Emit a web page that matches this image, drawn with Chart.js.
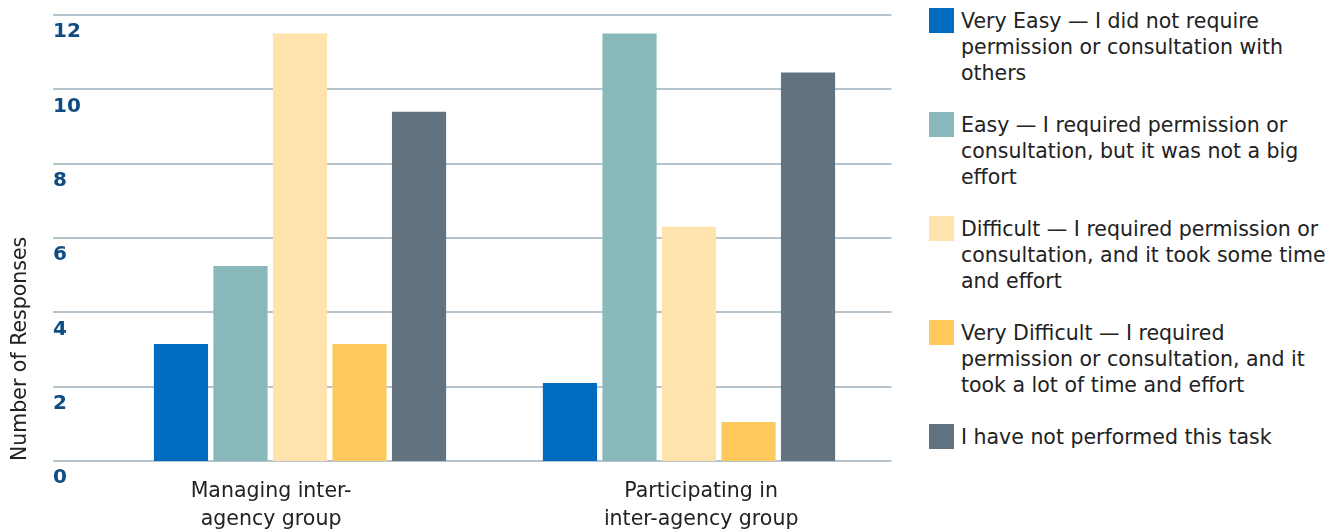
<!DOCTYPE html>
<html>
<head>
<meta charset="utf-8">
<script src="https://cdn.jsdelivr.net/npm/chart.js@4/dist/chart.umd.min.js"></script>
<style>
  body { margin: 0; background: #fff; }
  #wrap { position: relative; width: 1340px; height: 531px; }
  #chartBox { position: absolute; left: 0; top: 0; width: 900px; height: 531px; }
  #legend { position: absolute; left: 929px; top: 8px; font-family: "DejaVu Sans"; font-size: 20.5px; line-height: 26px; color: #222; white-space: nowrap; }
  #legend .item { display: flex; align-items: flex-start; margin-bottom: 26px; }
  #legend .swatch { width: 25px; height: 25px; flex: none; margin-right: 7px; }
</style>
</head>
<body>
<div id="wrap">
  <div id="chartBox"><canvas id="myChart"></canvas></div>
  <div id="legend"></div>
</div>

<script>
var groups = [['Managing inter-', 'agency group'], ['Participating in', 'inter-agency group']];

var seriesNames = [
  ['Very Easy \u2014 I did not require', 'permission or consultation with', 'others'],
  ['Easy \u2014 I required permission or', 'consultation, but it was not a big', 'effort'],
  ['Difficult \u2014 I required permission or', 'consultation, and it took some time', 'and effort'],
  ['Very Difficult \u2014 I required', 'permission or consultation, and it', 'took a lot of time and effort'],
  ['I have not performed this task']
];

var veryEasy      = [3.15, 2.1];
var easy          = [5.25, 11.5];
var difficult     = [11.5, 6.3];
var veryDifficult = [3.15, 1.05];
var notPerformed  = [9.4, 10.45];

var yMin = 0, yMax = 12, yStep = 2;

var colors = ['#006bbf', '#88b8ba', '#fee3ad', '#fec95d', '#62737f'];
var values = [veryEasy, easy, difficult, veryDifficult, notPerformed];

// horizontal rules run from the tick labels to a little past the plot
var gridPlugin = {
  id: 'fullGrid',
  beforeDatasetsDraw: function(chart) {
    var y = chart.scales.y, ctx = chart.ctx;
    ctx.save();
    ctx.strokeStyle = '#b5c3cd';
    ctx.lineWidth = 2;
    y.ticks.forEach(function(t) {
      var py = Math.round(y.getPixelForValue(t.value));
      ctx.beginPath();
      ctx.moveTo(y.left, py);
      ctx.lineTo(chart.chartArea.right + 8, py);
      ctx.stroke();
    });
    ctx.restore();
  }
};

var datasets = values.map(function(v, i) {
  return {
    label: seriesNames[i],
    data: v,
    backgroundColor: colors[i],
    xAxisID: 'x',
    yAxisID: 'y',
    categoryPercentage: 0.765,
    barPercentage: 0.91
  };
});

var ctx = document.getElementById('myChart');
var chart = new Chart(ctx, {
  type: 'bar',
  data: { labels: groups, datasets: datasets },
  options: {
    responsive: true,
    maintainAspectRatio: false,
    animation: false,
    layout: { padding: { top: 15, right: 16.5, bottom: 0, left: 0 } },
    plugins: { legend: { display: false }, tooltip: { enabled: false } },
    scales: {
      x: {
        weight: 0,
        ticks: { display: false },
        grid: { display: false, drawTicks: false },
        border: { display: false },
        afterFit: function(s) { s.height = 0; }
      },
      // group names sit on their own axis, slightly off the bar centres
      xl: {
        type: 'linear',
        position: 'bottom',
        weight: 1,
        offset: false,
        bounds: 'data',
        min: -0.385, max: 1.424,
        afterBuildTicks: function(s) {
          s.ticks = groups.map(function(g, i) { return { value: i }; });
        },
        ticks: {
          autoSkip: false,
          maxRotation: 0, minRotation: 0,
          padding: 16.5,
          color: '#222',
          font: { family: 'DejaVu Sans', size: 20.5, lineHeight: '28px' },
          callback: function(v) { return groups[v]; }
        },
        grid: { display: false, drawTicks: false, offset: false },
        border: { display: false },
        afterFit: function(s) { s.height = 70; }
      },
      y: {
        position: 'left',
        weight: 0,
        min: yMin, max: yMax,
        ticks: {
          stepSize: yStep,
          crossAlign: 'far',
          labelOffset: 17,
          color: '#0f4c81',
          font: { family: 'DejaVu Sans', size: 20, weight: 'bold' }
        },
        grid: { display: false, drawTicks: false },
        border: { display: false },
        afterFit: function(s) { s.width = 52.5; }
      },
      yTitle: {
        type: 'linear',
        position: 'left',
        weight: 1,
        ticks: { display: false },
        grid: { display: false, drawTicks: false },
        border: { display: false },
        title: {
          display: true,
          text: 'Number of Responses',
          align: 'start',
          color: '#222',
          font: { family: 'DejaVu Sans', size: 20.5 },
          padding: { top: 8, bottom: 0 }
        },
        afterFit: function(s) { s.width = 53; }
      }
    }
  },
  plugins: [gridPlugin]
});

// legend built from the chart's datasets
var legend = document.getElementById('legend');
chart.data.datasets.forEach(function(ds) {
  var item = document.createElement('div');
  item.className = 'item';
  var sw = document.createElement('div');
  sw.className = 'swatch';
  sw.style.background = ds.backgroundColor;
  var txt = document.createElement('div');
  txt.innerHTML = ds.label.join('<br>');
  item.appendChild(sw);
  item.appendChild(txt);
  legend.appendChild(item);
});
</script>
</body>
</html>
